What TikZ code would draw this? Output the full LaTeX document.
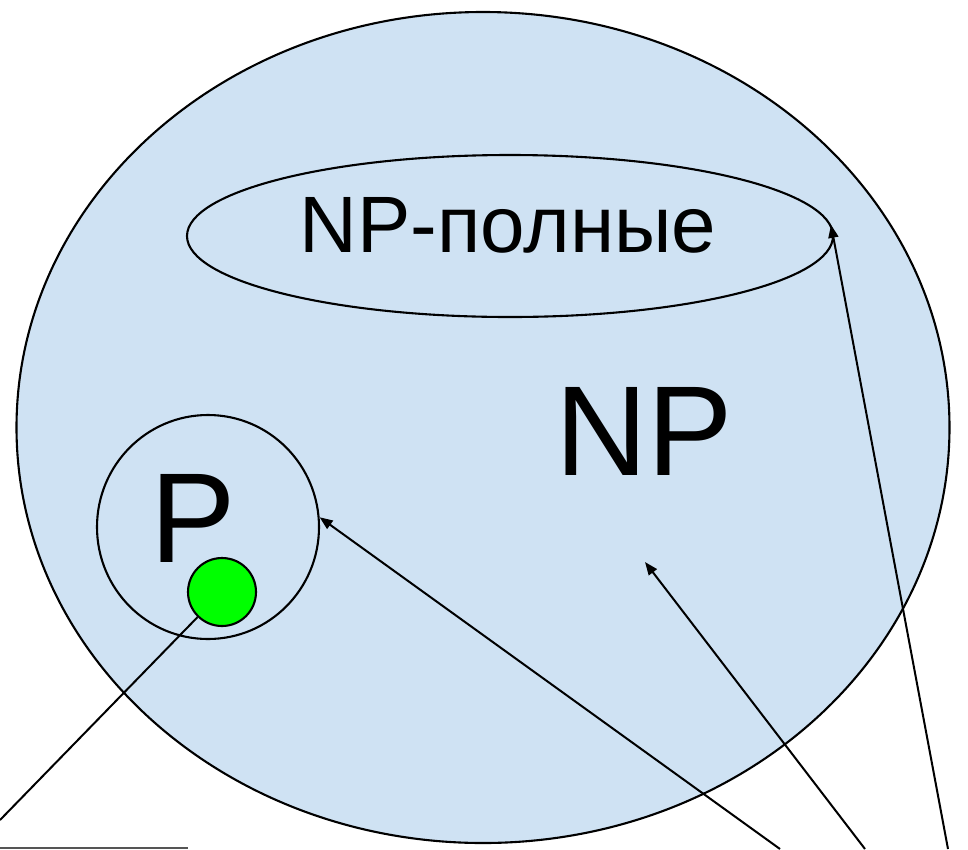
\documentclass[tikz,border=0pt]{standalone}
\usepackage{fontspec}
\setmainfont{Liberation Sans}
\usetikzlibrary{arrows.meta,shapes.geometric}
\definecolor{npblue}{HTML}{CFE2F3}
\definecolor{pgreen}{HTML}{00FF00}
\definecolor{edgegray}{HTML}{555555}
\begin{document}
\begin{tikzpicture}[x=1pt,y=-1pt,
  outline/.style={draw=black,line width=2.1pt,inner sep=0pt},
  conn/.style={line width=2pt,-{Triangle[length=13pt,width=10pt]}},
  plainline/.style={line width=2pt},
  bigtext/.style={font=\fontsize{128}{128}\selectfont,inner sep=0pt,anchor=base},
  midtext/.style={font=\fontsize{80}{80}\selectfont,inner sep=0pt,anchor=base},
]
\useasboundingbox (0,0) rectangle (968,849);
\node[ellipse, outline, fill=npblue, minimum width=933pt, minimum height=831pt] (np) at (483,427.5) {};
\node[ellipse, outline, minimum width=646pt, minimum height=162pt] (inner) at (510,236) {};
\node[ellipse, outline, minimum width=222pt, minimum height=224pt] (pc) at (208,527) {};
\node[circle, outline, fill=pgreen, minimum size=68pt] (green) at (222,592) {};
\node[midtext] (t1) at (508,252) {NP-полные};
\node[bigtext] (t2) at (644,475) {NP};
\node[bigtext] (t3) at (193,562) {P};
\coordinate (c1) at (0,820);
\coordinate (c2) at (780,849);
\coordinate (c3) at (865,849);
\coordinate (c4) at (948,849);
\coordinate (tip) at (645,562);
\coordinate (g1) at (0,848);
\coordinate (g2) at (188,848);
\draw[conn] (c4) -- (inner.2);
\draw[conn] (c3) -- (tip);
\draw[conn] (c2) -- (pc.5);
\draw[plainline] (green) -- (c1);
\draw[draw=edgegray, line width=1.5pt] (g1) -- (g2);
\end{tikzpicture}
\end{document}
